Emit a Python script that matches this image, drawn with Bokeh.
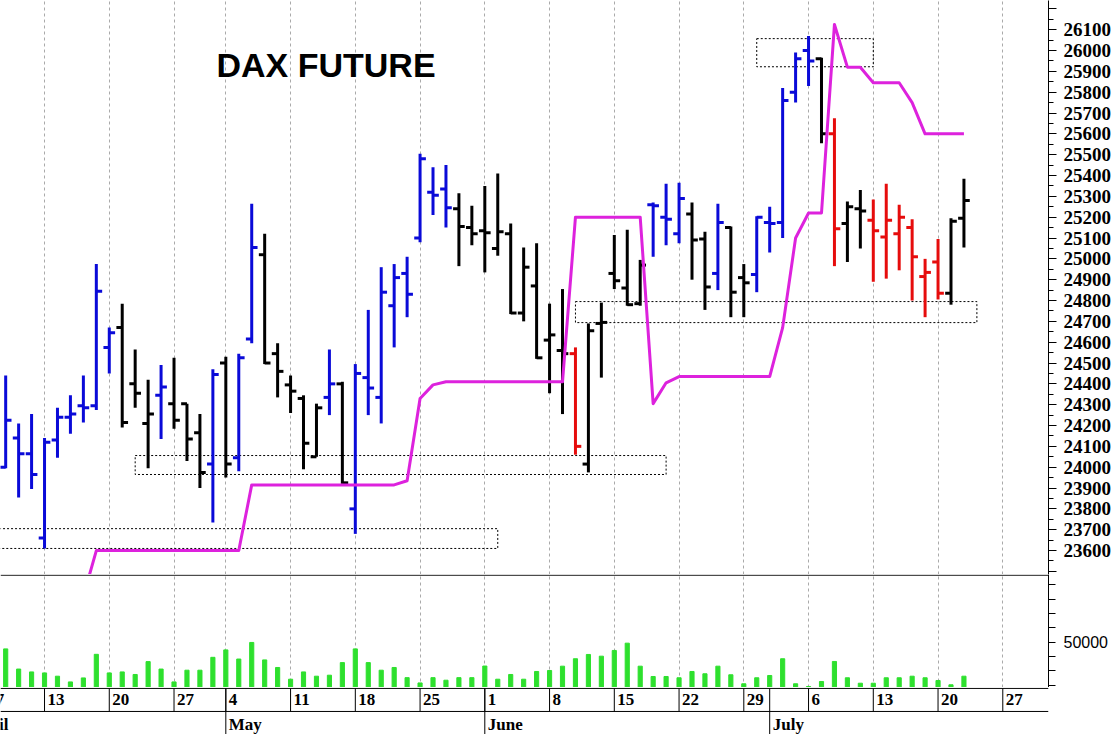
import numpy as np
from bokeh.plotting import figure
from bokeh.layouts import column
from bokeh.models import Range1d, FixedTicker, Grid, Span, Label
from bokeh.core.properties import value
from bokeh.embed import file_html
from bokeh.resources import INLINE

# x = trading-day index, 0 = Monday 13 April (Easter Monday and 1 May closed)
day = list(range(-3, 72))

opens = [24000, 24140, 24065,
         23660, 24130, 24240, 24295, 24295,
         24575, 24670, 24400, 24210, 24345,
         24305, 24305, 24165, 24015,
         24500, 24045, 24615, 25020, 24545,
         24395, 24330, 24050, 24335, 24400,
         23800, 24430, 24335, 24775, 24930,
         25100, 25320, 25335, 25240, 25150,
         25135, 25050, 25120, 24740, 24870,
         24610, 24560, 24545, 24015, 24690,
         24930, 24860, 24785, 25260, 25200,
         25120, 25215, 25095, 24930, 25150,
         24910, 24925, 25175, 25175, 25800,
         26000, 25960, 25600, 25170, 25240,
         25185, 25105, 25120, 25150, 24915,
         24985, 24835, 25195]
highs = [24440, 24210, 24255,
         24140, 24285, 24345, 24440, 24975,
         24670, 24785, 24565, 24420, 24490,
         24525, 24305, 24255, 24470,
         24530, 24545, 25265, 25120, 24595,
         24440, 24345, 24305, 24565, 24410,
         24495, 24755, 24960, 24975, 25010,
         25505, 25440, 25450, 25315, 25255,
         25350, 25410, 25170, 25055, 25075,
         24785, 24855, 24575, 24690, 24790,
         25115, 25140, 24995, 25270, 25360,
         25365, 25270, 25130, 25265, 25155,
         24975, 25205, 25250, 25820, 25990,
         26070, 25965, 25675, 25275, 25330,
         25285, 25360, 25260, 25190, 25000,
         25095, 25195, 25385]
lows = [23995, 23855, 23895,
        23610, 24045, 24160, 24215, 24275,
        24450, 24190, 24285, 23995, 24135,
        24185, 24030, 23900, 23735,
        23950, 23980, 24595, 24495, 24335,
        24260, 23990, 24050, 24250, 23920,
        23680, 24250, 24210, 24575, 24720,
        25080, 25210, 25150, 24965, 25065,
        24935, 25015, 24735, 24700, 24520,
        24355, 24255, 24060, 23975, 24430,
        24855, 24775, 24775, 25010, 25065,
        25075, 24900, 24755, 24850, 24720,
        24720, 24840, 25030, 25100, 25750,
        25830, 25555, 24965, 24985, 25050,
        24890, 24905, 24945, 24800, 24720,
        24805, 24780, 25055]
closes = [24225, 24065, 23965,
          24120, 24240, 24255, 24285, 24845,
          24645, 24215, 24355, 24255, 24385,
          24225, 24135, 23975, 24445,
          24015, 24525, 25055, 24500, 24460,
          24365, 24115, 24285, 24400, 23925,
          24450, 24380, 24840, 24910, 24830,
          25480, 25305, 25245, 25155, 25120,
          25125, 25130, 24740, 24960, 24525,
          24635, 24545, 24100, 24655, 24695,
          24895, 24780, 24970, 25255, 25190,
          25290, 25090, 24865, 25175, 24840,
          24885, 25200, 25170, 25760, 25960,
          25950, 25600, 25145, 25250, 25230,
          25135, 25185, 25200, 25010, 24935,
          24835, 25180, 25280]
# bar colour signal: B = blue, K = black, R = red
signal = ["B", "B", "B",
          "B", "B", "B", "B", "B",
          "B", "K", "K", "K", "B",
          "K", "K", "K", "B",
          "K", "B", "B", "K", "K",
          "K", "K", "K", "B", "K",
          "B", "B", "B", "B", "B",
          "B", "B", "B", "K", "K",
          "K", "K", "K", "K", "K",
          "K", "K", "R", "K", "K",
          "K", "K", "K", "B", "B",
          "B", "K", "K", "B", "K",
          "K", "B", "B", "B", "B",
          "B", "K", "R", "K", "K",
          "R", "R", "R", "R", "R",
          "R", "K", "K"]
volume = [45300, 31200, 29200,
          28500, 26200, 22200, 25000, 41500,
          28500, 29200, 27400, 36400, 31200,
          22200, 30400, 30400, 39400,
          44600, 38200, 49800, 37600, 32300,
          24100, 29200, 26200, 26900, 35700,
          45300, 35700, 30400, 32300, 25200,
          21500, 25200, 23400, 25200, 25200,
          33300, 24100, 27400, 24100, 29500,
          30200, 33200, 38400, 41400, 40200,
          44200, 49300, 33200, 26000, 26000,
          25100, 29500, 27900, 33200, 27200,
          20900, 25100, 26700, 38400, 20900,
          19000, 22500, 36500, 25100, 21300,
          21300, 25100, 25100, 26200, 25100,
          23200, 20200, 26200]

# magenta stop line
stop_day = list(range(3, 72))
stop = [23380,
        23600, 23600, 23600, 23600, 23600, 23600, 23600, 23600, 23600, 23600, 23600, 23600,
        23915, 23915, 23915, 23915, 23915, 23915, 23915, 23915, 23915, 23915, 23915, 23915,
        23935, 24330, 24395,
        24410, 24410, 24410, 24410, 24410, 24410, 24410, 24410, 24410, 24410,
        25200, 25200, 25200, 25200, 25200, 25200,
        24305, 24405,
        24435, 24435, 24435, 24435, 24435, 24435, 24435, 24435,
        24670, 25100, 25220, 25220, 26125, 25920, 25920,
        25845, 25845, 25845, 25750,
        25600, 25600, 25600, 25600]

# dotted zones
zone_start = [-10, 7, 41, 55]
zone_end = [35, 48, 72, 64]
zone_low = [23610, 23965, 24694, 25922]
zone_high = [23705, 24056, 24795, 26057]

week_day = [-4, 0, 5, 10, 14, 19, 24, 29, 34, 39, 44, 49, 54, 59, 64, 69, 74]
week_labels = ["7", "13", "20", "27", "4", "11", "18", "25", "1", "8", "15", "22",
               "29", "6", "13", "20", "27"]
month_day = [-6, 14, 34, 56]
month_labels = ["April", "May", "June", "July"]

price_ticks = list(range(23500, 26201, 100))
price_minor = list(range(23550, 26200, 100))
vol_ticks = list(range(20000, 90001, 10000))

palette = {"B": "#0a0ad8", "K": "black", "R": "#e60c0c"}
colors = [palette[s] for s in signal]

W = 1119
RB = 71
x_range = Range1d(-3.4, 77.53)

# price panel
p = figure(width=W, height=574, x_range=x_range, y_range=Range1d(23485, 26240),
           output_backend="svg", toolbar_location=None,
           x_axis_location=None, y_axis_location="right",
           min_border_left=0, min_border_right=RB, min_border_top=0, min_border_bottom=0)
p.outline_line_color = None
p.grid.visible = False
p.add_layout(Grid(dimension=0, ticker=FixedTicker(ticks=week_day),
                  grid_line_color="#aaaaaa", grid_line_dash="3 3"))

ax = p.yaxis[0]
ax.ticker = FixedTicker(ticks=price_ticks, minor_ticks=price_minor)
ax.major_label_overrides = {23500: "", 26200: ""}
ax.axis_line_color = "black"
ax.major_tick_line_color = "black"
ax.minor_tick_line_color = "black"
ax.major_tick_in = 0
ax.major_tick_out = 8
ax.minor_tick_in = 0
ax.minor_tick_out = 5
ax.major_label_standoff = 7
ax.major_label_text_font = "Liberation Serif"
ax.major_label_text_font_style = "bold"
ax.major_label_text_font_size = "19px"
ax.major_label_text_color = "black"

p.quad(left=zone_start, right=zone_end, bottom=zone_low, top=zone_high,
       fill_color=None, line_color="black", line_width=1, line_dash="2 2")

d = np.array(day, dtype=float)
p.segment(d, lows, d, highs, line_color=colors, line_width=3, line_cap="butt")
p.segment(d - 0.45, opens, d, opens, line_color=colors, line_width=3, line_cap="butt")
p.segment(d, closes, d + 0.45, closes, line_color=colors, line_width=3, line_cap="butt")

p.line(stop_day, stop, line_color="#dd22dd", line_width=3, line_join="round")

p.add_layout(Label(x=13.28, y=25931, text="DAX FUTURE", text_font="Liberation Sans",
                   text_font_style="bold", text_font_size="34px",
                   text_baseline="alphabetic", text_color="black"))

# volume panel
v = figure(width=W, height=113, x_range=x_range, y_range=Range1d(18300, 97300),
           output_backend="svg", toolbar_location=None,
           x_axis_location=None, y_axis_location="right",
           min_border_left=0, min_border_right=RB, min_border_top=0, min_border_bottom=0)
v.outline_line_color = None
v.grid.visible = False
v.add_layout(Grid(dimension=0, ticker=FixedTicker(ticks=week_day),
                  grid_line_color="#aaaaaa", grid_line_dash="3 3"))
v.add_layout(Span(location=96800, dimension="width", line_color="black", line_width=1))
v.vbar(x=day, top=volume, bottom=0, width=0.32, color="#2ee02e")

vax = v.yaxis[0]
vax.ticker = FixedTicker(ticks=vol_ticks)
vax.major_label_overrides = {t: "" for t in vol_ticks if t != 50000}
vax.minor_tick_line_color = None
vax.axis_line_color = "black"
vax.major_tick_line_color = "black"
vax.major_tick_in = 0
vax.major_tick_out = 7
vax.major_label_standoff = 8
vax.major_label_text_font = "Liberation Sans"
vax.major_label_text_font_size = "16px"
vax.major_label_text_color = "black"

# date strip: week numbers above, months below
s = figure(width=W, height=47, x_range=x_range, y_range=Range1d(0, 2.04),
           output_backend="svg", toolbar_location=None,
           x_axis_location=None, y_axis_location=None,
           min_border_left=0, min_border_right=RB, min_border_top=0, min_border_bottom=0)
s.outline_line_color = None
s.grid.visible = False
s.add_layout(Span(location=2, dimension="width", line_color="black", line_width=1))
s.add_layout(Span(location=1, dimension="width", line_color="black", line_width=1))
s.segment(week_day, [1] * len(week_day), week_day, [2] * len(week_day),
          line_color="black", line_width=1)
s.segment(month_day, [0] * len(month_day), month_day, [2] * len(month_day),
          line_color="black", line_width=1)
s.text(x=week_day, y=[1.5] * len(week_day), text=week_labels, x_offset=3,
       text_align="left", text_baseline="middle", text_font=value("Liberation Serif"),
       text_font_style="bold", text_font_size="17px", text_color="black")
s.text(x=month_day, y=[0.45] * len(month_day), text=month_labels, x_offset=3,
       text_align="left", text_baseline="middle", text_font=value("Liberation Serif"),
       text_font_style="bold", text_font_size="17px", text_color="black")

layout = column(p, v, s, spacing=0)
open("out.html", "w").write(file_html(layout, INLINE))
